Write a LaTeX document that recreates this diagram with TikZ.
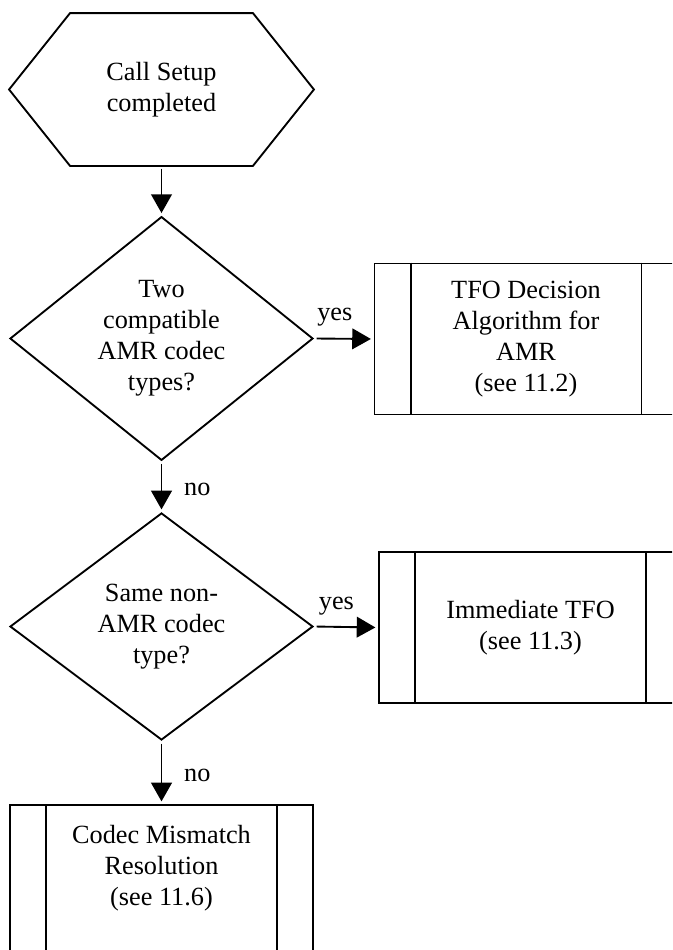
\documentclass[tikz,border=0pt]{standalone}
\usepackage{fontspec}
\setmainfont{Liberation Serif}
\usetikzlibrary{calc, positioning, shapes.geometric, arrows.meta}

\begin{document}
\begin{tikzpicture}[x=0.75pt,y=-0.75pt,line width=1.4pt,
                    font=\fontsize{19.7}{23.3}\selectfont,
                    flow/.style={-{Triangle[length=14pt,width=15.5pt]},shorten <=2pt,shorten >=2pt},
                    hex node/.style={rectangle,minimum width=227.25pt,minimum height=113.25pt,inner sep=0pt,align=center},
                    test node/.style={diamond,draw,minimum width=227.25pt,minimum height=170.25pt,inner sep=0pt,align=center},
                    proc node/.style={rectangle,draw,minimum width=227.25pt,minimum height=113.25pt,inner sep=0pt,align=center}]
\clip (0,0) rectangle (672,950);

\node[hex node] (Start) at (161.5,89.5) {Call Setup\\completed};
\draw (Start.west) -- ($(Start.north west)+(61,0)$) -- ($(Start.north east)+(-61,0)$) -- (Start.east)
      -- ($(Start.south east)+(-61,0)$) -- ($(Start.south west)+(61,0)$) -- cycle;

\node[test node] (AmrTest) at (161.5,338.5) {Two\\compatible\\AMR codec\\types?};
\node[test node] (NonAmrTest) at (161.5,626.5) {Same non-\\AMR codec\\type?};

\node[proc node] (TfoDecision) at (526,339) {TFO Decision\\Algorithm for\\AMR\\(see 11.2)};
\node[proc node] (ImmTfo) at (530.5,627.5) {Immediate TFO\\(see 11.3)};
\node[proc node] (Mismatch) at (161.5,880.5) {Codec Mismatch\\Resolution\\(see 11.6)\\ \mbox{}};

\foreach \b in {TfoDecision,ImmTfo,Mismatch}
   {\draw ($(\b.north west)+(37,0)$) -- ($(\b.south west)+(37,0)$);
    \draw ($(\b.north east)+(-37,0)$) -- ($(\b.south east)+(-37,0)$);}

\draw[flow] (Start.south) -- (AmrTest.north);
\draw[flow] (AmrTest.east) -- node[above=5pt,pos=0.35] (YesAmr) {yes} (TfoDecision.west);
\draw[flow] (AmrTest.south) -- node[right=13pt,pos=0.55] (NoAmr) {no} (NonAmrTest.north);
\draw[flow] (NonAmrTest.east) -- node[above=5pt,pos=0.35] (YesNonAmr) {yes} (ImmTfo.west);
\draw[flow] (NonAmrTest.south) -- node[right=13pt,pos=0.55] (NoNonAmr) {no} (Mismatch.north);
\end{tikzpicture}
\end{document}
